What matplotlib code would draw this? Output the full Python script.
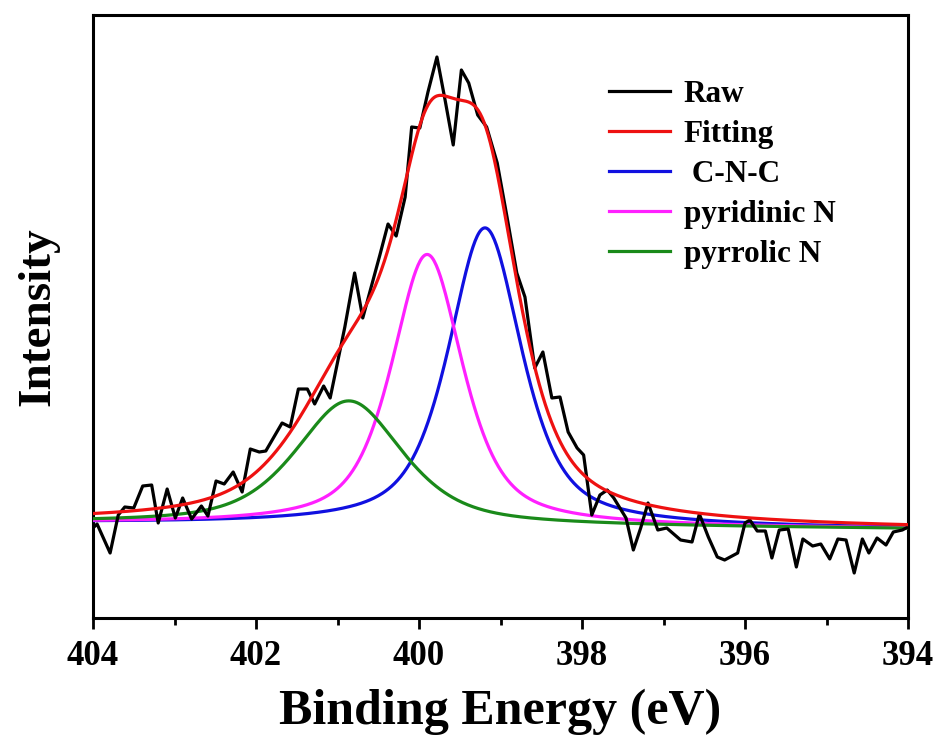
import numpy as np
import matplotlib
matplotlib.use("Agg")
import matplotlib.pyplot as plt
from matplotlib.ticker import MultipleLocator

plt.rcParams['font.family'] = ['Liberation Serif', 'DejaVu Serif']
plt.rcParams['font.weight'] = 'bold'

# ---- Raw spectrum (binding energy, intensity a.u.) ----
raw_energy = [404.00, 403.95, 403.79, 403.69, 403.61, 403.50, 403.39, 403.28, 403.20, 403.09,
              402.99, 402.90, 402.79, 402.67, 402.59, 402.49, 402.39, 402.28, 402.17, 402.07,
              401.96, 401.88, 401.68, 401.58, 401.48, 401.37, 401.28, 401.17, 401.09, 400.91,
              400.79, 400.69, 400.58, 400.48, 400.38, 400.28, 400.17, 400.09, 399.99, 399.89,
              399.78, 399.68, 399.58, 399.48, 399.39, 399.28, 399.17, 399.04, 398.92, 398.80,
              398.70, 398.58, 398.48, 398.37, 398.27, 398.17, 398.06, 397.98, 397.88, 397.78,
              397.69, 397.61, 397.46, 397.37, 397.28, 397.19, 397.07, 396.96, 396.79, 396.65,
              396.56, 396.45, 396.34, 396.25, 396.09, 396.00, 395.94, 395.85, 395.75, 395.67,
              395.58, 395.47, 395.37, 395.29, 395.17, 395.07, 394.96, 394.86, 394.76, 394.66,
              394.56, 394.48, 394.38, 394.27, 394.18, 394.07, 394.00]
raw_intensity = [90, 94, 65, 103, 111, 110, 132, 133, 95, 129,
                 100, 120, 99, 112, 102, 137, 134, 146, 126, 169,
                 166, 167, 195, 191, 229, 229, 214, 232, 220, 291,
                 345, 300, 333, 363, 394, 382, 421, 491, 490, 526,
                 561, 518, 473, 548, 535, 503, 491, 455, 401, 345,
                 321, 250, 266, 220, 221, 186, 170, 163, 103, 123,
                 128, 120, 100, 68, 90, 115, 88, 90, 78, 76,
                 104, 81, 61, 58, 65, 95, 98, 87, 87, 60,
                 88, 89, 51, 79, 72, 74, 59, 79, 78, 45,
                 79, 65, 80, 73, 86, 88, 91]

# ---- Fitted components (pseudo-Voigt) ----
comp_labels = [' C-N-C', 'pyridinic N', 'pyrrolic N']
comp_centers = [399.19, 399.90, 400.86]
comp_heights = [298, 271, 124]
comp_fwhm = [1.07, 1.04, 1.56]
comp_eta = [0.65, 0.65, 0.6]
comp_colors = ['#1010e0', '#ff20ff', '#1a8a1a']
baseline_left, baseline_right = 95, 89   # at 404 eV and 394 eV

E = np.linspace(404, 394, 801)
baseline = np.interp(E, [394, 404], [baseline_right, baseline_left])

def pvoigt(x, c, h, w, eta):
    r2 = ((x - c) / (w / 2.0)) ** 2
    return h * (eta / (1 + r2) + (1 - eta) * np.exp(-np.log(2) * r2))

comps = [pvoigt(E, c, h, w, eta) for c, h, w, eta in
         zip(comp_centers, comp_heights, comp_fwhm, comp_eta)]
fit = baseline + np.sum(comps, axis=0)

fig = plt.figure(figsize=(9.39, 7.49), dpi=100)
ax = fig.add_axes([93/939, 1-618/749, 815/939, 603/749])

lw = 2.3
ax.plot(raw_energy, raw_intensity, color='black', lw=lw, label='Raw', zorder=5)
ax.plot(E, fit, color='#ee1111', lw=lw, label='Fitting', zorder=6)
for lab, col, comp in zip(comp_labels, comp_colors, comps):
    ax.plot(E, baseline + comp, color=col, lw=lw, label=lab, zorder=4)

ax.set_xlim(404, 394)
ax.set_ylim(0, 603)
ax.xaxis.set_major_locator(MultipleLocator(2))
ax.xaxis.set_minor_locator(MultipleLocator(1))
ax.set_yticks([])
ax.tick_params(axis='x', which='major', direction='out', length=8, width=2, labelsize=25, pad=8)
ax.tick_params(axis='x', which='minor', direction='out', length=5, width=2)
for lbl in ax.get_xticklabels():
    lbl.set_fontweight('bold')
for s in ax.spines.values():
    s.set_linewidth(2.2)

ax.set_xlabel('Binding Energy (eV)', fontsize=36, fontweight='bold', labelpad=11)
ax.set_ylabel('Intensity', fontsize=34, fontweight='bold', labelpad=24)

leg = ax.legend(loc='upper left', bbox_to_anchor=(0.633, 0.892), frameon=False,
                prop={'family': ['Liberation Serif'], 'weight': 'bold', 'size': 22.5},
                handlelength=1.95, handletextpad=0.45, labelspacing=0.35, borderpad=0,
                borderaxespad=0)

fig.savefig('out.png', dpi=100)
